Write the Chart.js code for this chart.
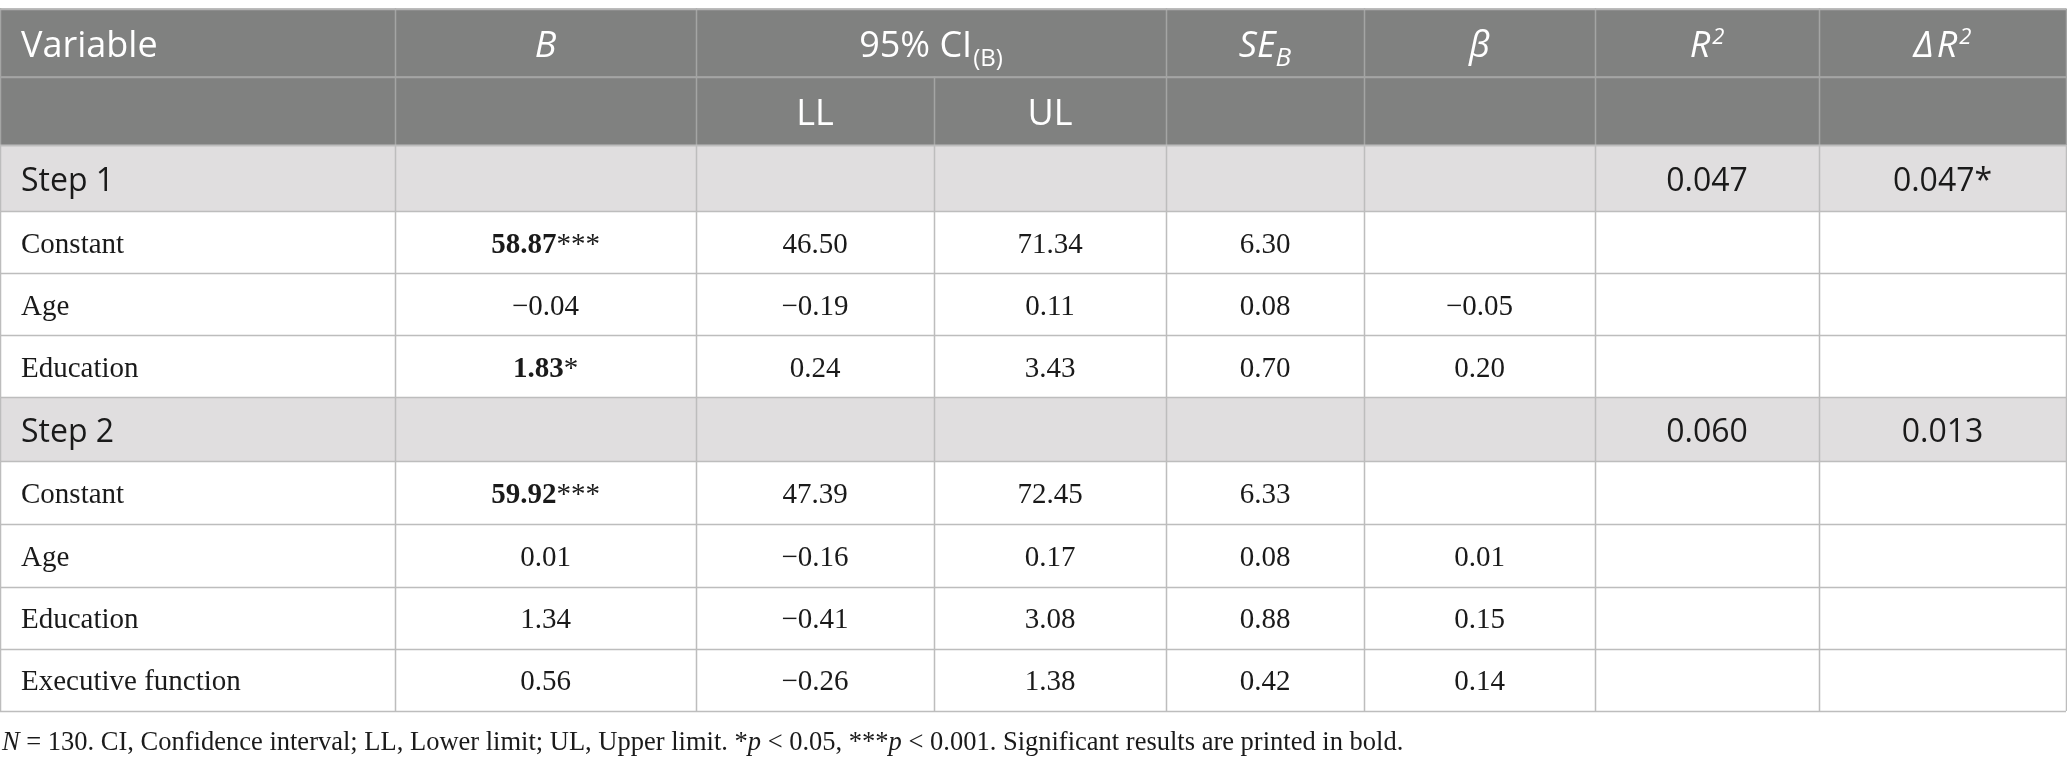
<!DOCTYPE html>
<html>
<head>
<meta charset="utf-8">
<script src="https://cdn.jsdelivr.net/npm/chart.js@4.4.0/dist/chart.umd.min.js"></script>
<style>
  html, body { margin: 0; padding: 0; background: #fff; }
  canvas { display: block; }
</style>
</head>
<body>
<canvas id="myChart" width="2067" height="769"></canvas>
<script>
// table values
const rowLabels = ["Step 1", "Constant", "Age", "Education", "Step 2", "Constant", "Age", "Education", "Executive function"];
const stepRows = [0, 4];
const bValues = [null, 58.87, -0.04, 1.83, null, 59.92, 0.01, 1.34, 0.56];
const bStars = ["", "***", "", "*", "", "***", "", "", ""];
const bSignificant = [false, true, false, true, false, true, false, false, false];
const llValues = [null, 46.5, -0.19, 0.24, null, 47.39, -0.16, -0.41, -0.26];
const ulValues = [null, 71.34, 0.11, 3.43, null, 72.45, 0.17, 3.08, 1.38];
const seValues = [null, 6.3, 0.08, 0.7, null, 6.33, 0.08, 0.88, 0.42];
const betaValues = [null, null, -0.05, 0.2, null, null, 0.01, 0.15, 0.14];
const r2Values = [0.047, null, null, null, 0.06, null, null, null, null];
const dr2Values = [0.047, null, null, null, 0.013, null, null, null, null];
const dr2Stars = ["*", "", "", "", "", "", "", "", ""];
const subHeaders = ["LL", "UL"];

// layout (in scale units, 1 unit = 1 px)
const colEdges = [0, 395, 696, 934, 1166, 1364, 1595, 1819, 2066];
const rowEdges = [8.5, 76.5, 145, 211, 273, 335, 397, 461, 524, 586.5, 648.5, 711];

const SANS = "'Open Sans', sans-serif";
const SERIF = "'Liberation Serif', serif";
const headBg = "#808180";
const stepBg = "#e0dedf";
const headLine = "#a4a5a4";
const bodyLine = "#bdbdbd";
const ink = "#1a1a1a";

function fmt(v, d) {
  return v == null ? "" : v.toFixed(d).replace("-", "\u2212");
}

function drawRuns(ctx, runs, x, baseline, align) {
  let total = 0;
  runs.forEach((r) => {
    ctx.font = r.font;
    r.w = ctx.measureText(r.text).width + (r.gap || 0);
    total += r.w;
  });
  let cx = align === "center" ? x - total / 2 : x;
  runs.forEach((r) => {
    ctx.font = r.font;
    ctx.fillText(r.text, cx, baseline + (r.dy || 0));
    cx += r.w;
  });
}

function capBase(ctx, font, top, bottom) {
  ctx.font = font;
  let cap = ctx.measureText("H").actualBoundingBoxAscent;
  return (top + bottom) / 2 + cap / 2;
}

const tablePlugin = {
  id: "table",
  afterDraw(chart) {
    const ctx = chart.ctx;
    const xs = chart.scales.x;
    const ys = chart.scales.y;
    const X = (v) => xs.getPixelForValue(v);
    const Y = (v) => ys.getPixelForValue(v);
    const left = X(colEdges[0]);
    const right = X(colEdges[colEdges.length - 1]);
    const colMid = (c) => (X(colEdges[c]) + X(colEdges[c + 1])) / 2;

    ctx.save();
    // row backgrounds
    for (let r = 0; r < rowEdges.length - 1; r++) {
      let bg = "#ffffff";
      if (r < 2) bg = headBg;
      else if (stepRows.includes(r - 2)) bg = stepBg;
      ctx.fillStyle = bg;
      ctx.fillRect(left, Y(rowEdges[r]), right - left, Y(rowEdges[r + 1]) - Y(rowEdges[r]));
    }

    // vertical lines
    ctx.lineWidth = 1.5;
    for (let c = 0; c < colEdges.length; c++) {
      let x = Math.round(X(colEdges[c])) + 0.5;
      ctx.strokeStyle = headLine;
      ctx.beginPath();
      if (c !== 3) {
        ctx.moveTo(x, Y(rowEdges[0]));
      } else {
        ctx.moveTo(x, Y(rowEdges[1]));
      }
      ctx.lineTo(x, Y(rowEdges[2]));
      ctx.stroke();
      ctx.strokeStyle = bodyLine;
      ctx.beginPath();
      ctx.moveTo(x, Y(rowEdges[2]));
      ctx.lineTo(x, Y(rowEdges[rowEdges.length - 1]));
      ctx.stroke();
    }
    // horizontal lines
    for (let r = 0; r < rowEdges.length; r++) {
      let y = Math.round(Y(rowEdges[r])) + 0.5;
      ctx.strokeStyle = r < 2 ? (r === 0 ? "#b4b4b4" : headLine) : bodyLine;
      ctx.lineWidth = r === 2 ? 2 : 1.5;
      ctx.beginPath();
      ctx.moveTo(left, y);
      ctx.lineTo(right, y);
      ctx.stroke();
    }

    // header text
    ctx.fillStyle = "#ffffff";
    const hF = "36px " + SANS;
    const hI = "italic 36px " + SANS;
    let hb = capBase(ctx, hF, Y(rowEdges[0]), Y(rowEdges[1])) + 1;
    drawRuns(ctx, [{ text: "Variable", font: hF }], X(colEdges[0]) + 21, hb, "left");
    drawRuns(ctx, [{ text: "B", font: hI }], colMid(1), hb, "center");
    drawRuns(ctx, [
      { text: "95% CI", font: hF, gap: 1 },
      { text: "(B)", font: "24px " + SANS, dy: 9 },
    ], (X(colEdges[2]) + X(colEdges[4])) / 2, hb, "center");
    drawRuns(ctx, [
      { text: "SE", font: hI },
      { text: "B", font: "italic 26px " + SANS, dy: 9 },
    ], colMid(4), hb, "center");
    drawRuns(ctx, [{ text: "\u03b2", font: hI }], colMid(5), hb, "center");
    drawRuns(ctx, [
      { text: "R", font: hI, gap: 2 },
      { text: "2", font: "italic 22px " + SANS, dy: -13 },
    ], colMid(6), hb, "center");
    drawRuns(ctx, [
      { text: "\u0394", font: hI, gap: 3 },
      { text: "R", font: hI, gap: 2 },
      { text: "2", font: "italic 22px " + SANS, dy: -13 },
    ], colMid(7), hb, "center");
    let hb2 = capBase(ctx, hF, Y(rowEdges[1]), Y(rowEdges[2])) + 1;
    subHeaders.forEach((s, i) => {
      drawRuns(ctx, [{ text: s, font: hF }], colMid(2 + i), hb2, "center");
    });

    // body rows
    const sF = "32px " + SANS;
    const dF = "29px " + SERIF;
    const dB = "bold 29px " + SERIF;
    ctx.fillStyle = ink;
    rowLabels.forEach((label, i) => {
      let top = Y(rowEdges[i + 2]);
      let bot = Y(rowEdges[i + 3]);
      if (stepRows.includes(i)) {
        let b = capBase(ctx, sF, top, bot) + 1;
        drawRuns(ctx, [{ text: label, font: sF }], X(colEdges[0]) + 21, b, "left");
        if (r2Values[i] != null)
          drawRuns(ctx, [{ text: fmt(r2Values[i], 3), font: sF }], colMid(6), b, "center");
        if (dr2Values[i] != null)
          drawRuns(ctx, [{ text: fmt(dr2Values[i], 3) + dr2Stars[i], font: sF }], colMid(7), b, "center");
        return;
      }
      let b = capBase(ctx, dF, top, bot) + 1;
      drawRuns(ctx, [{ text: label, font: dF }], X(colEdges[0]) + 21, b, "left");
      let bRuns = [{ text: fmt(bValues[i], 2), font: bSignificant[i] ? dB : dF }];
      if (bStars[i]) bRuns.push({ text: bStars[i], font: dF });
      drawRuns(ctx, bRuns, colMid(1), b, "center");
      [llValues, ulValues, seValues, betaValues].forEach((arr, k) => {
        if (arr[i] != null)
          drawRuns(ctx, [{ text: fmt(arr[i], 2), font: dF }], colMid(2 + k), b, "center");
      });
    });

    // footnote
    const fF = "26.5px " + SERIF;
    const fI = "italic 26.5px " + SERIF;
    drawRuns(ctx, [
      { text: "N", font: fI },
      { text: " = 130. CI, Confidence interval; LL, Lower limit; UL, Upper limit. *", font: fF },
      { text: "p", font: fI },
      { text: " < 0.05, ***", font: fF },
      { text: "p", font: fI },
      { text: " < 0.001. Significant results are printed in bold.", font: fF },
    ], X(2), Y(750), "left");
    ctx.restore();
  },
};

new Chart("myChart", {
  type: "scatter",
  data: { datasets: [] },
  options: {
    responsive: false,
    animation: false,
    devicePixelRatio: 1,
    layout: { padding: 0 },
    plugins: { legend: { display: false }, tooltip: { enabled: false } },
    scales: {
      x: { type: "linear", min: 0, max: 2067, display: false },
      y: { type: "linear", min: 0, max: 769, reverse: true, display: false },
    },
  },
  plugins: [tablePlugin],
});
</script>
</body>
</html>
